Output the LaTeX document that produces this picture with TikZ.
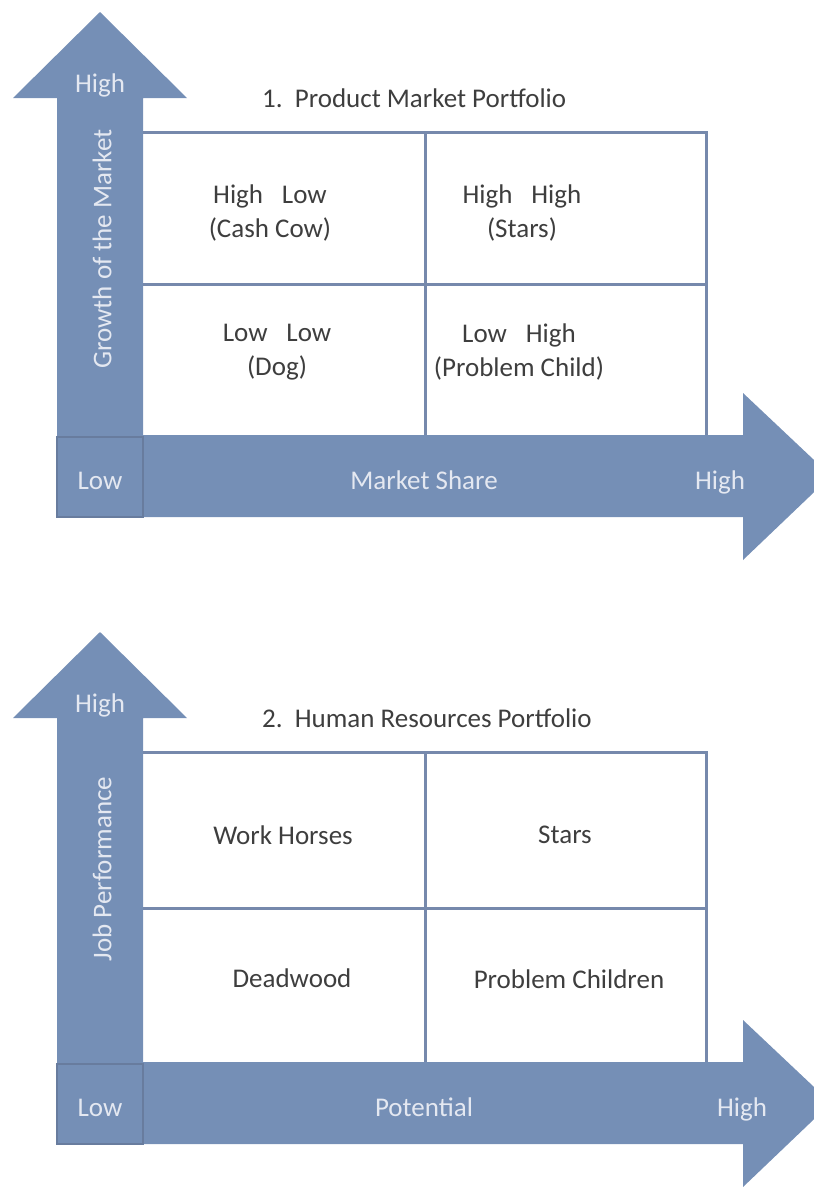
\documentclass[tikz,border=0pt]{standalone}
\usepackage{fontspec}
\setmainfont{Carlito}
\definecolor{axisblue}{RGB}{117,143,182}
\definecolor{gridblue}{RGB}{118,137,172}
\definecolor{lowedge}{RGB}{104,124,158}
\definecolor{axistext}{RGB}{228,232,241}
\definecolor{celltext}{RGB}{62,62,62}
\tikzset{
	axisarrow/.style={fill=axisblue},
	gridline/.style={draw=gridblue,line width=3pt},
	axislabel/.style={text=axistext,inner sep=0pt},
	celllabel/.style={text=celltext,align=center,inner sep=0pt},
}
\begin{document}
\begin{tikzpicture}[x=1pt,y=-1pt,font=\fontsize{27}{34}\selectfont]
	\useasboundingbox (0,0) rectangle (814,1187);
	\clip (0,0) rectangle (814,1187);
	% two panels: \t shifts the upper part, \o the lower part
	\foreach \t/\o/\n/\ttl/\vtxt/\htxt/\hx in {0/0/1/{1.\hspace{0.45em}Product Market Portfolio}/{Growth of the Market}/{Market Share}/720,
		620/627/2/{2.\hspace{0.45em}Human Resources Portfolio}/{Job Performance}/{Potential}/742}{
		\fill[axisarrow] (57,517+\o)--(57,98+\t)--(13,98+\t)--(100,12+\t)--(187,98+\t)--(143,98+\t)--(143,517+\o)--cycle;
		\fill[axisarrow] (57,435+\o)--(743,435+\o)--(743,393+\o)--(831,476+\o)--(743,560+\o)--(743,517+\o)--(57,517+\o)--cycle;
		\draw[lowedge,line width=2.5pt] (57,437+\o) rectangle (143,517+\o);
		\draw[gridline] (143,132+\t)--(706,132+\t)--(706,435+\o);
		\draw[gridline] (425,132+\t)--(425,435+\o);
		\draw[gridline] (143,{(132+\t+437+\o)/2})--(706,{(132+\t+437+\o)/2});
		\node[anchor=base west,text=celltext,inner sep=0pt] (title\n) at (262,107+\t) {\ttl};
		\node[axislabel,anchor=base] (vhigh\n) at (100,92+\t) {High};
		\node[axislabel,rotate=90] (vaxis\n) at (102,249+\t) {\vtxt};
		\node[axislabel,anchor=base] (low\n) at (100,489+\o) {Low};
		\node[axislabel,anchor=base] (haxis\n) at (424,489+\o) {\htxt};
		\node[axislabel,anchor=base] (hhigh\n) at (\hx,489+\o) {High};
	}
	\foreach \p/\s [count=\i] in {(270,213)/{High\hspace{0.7em}Low\\(Cash Cow)}, (522,213)/{High\hspace{0.7em}High\\(Stars)},
		(277,352)/{Low\hspace{0.7em}Low\\(Dog)}, (519,352)/{Low\hspace{0.7em}High\\(Problem Child)},
		(283,835)/{Work Horses}, (565,835)/{Stars}, (292,978)/{Deadwood}, (569,979)/{Problem Children}}
	\node[celllabel] (cell\i) at \p {\s};
\end{tikzpicture}
\end{document}
